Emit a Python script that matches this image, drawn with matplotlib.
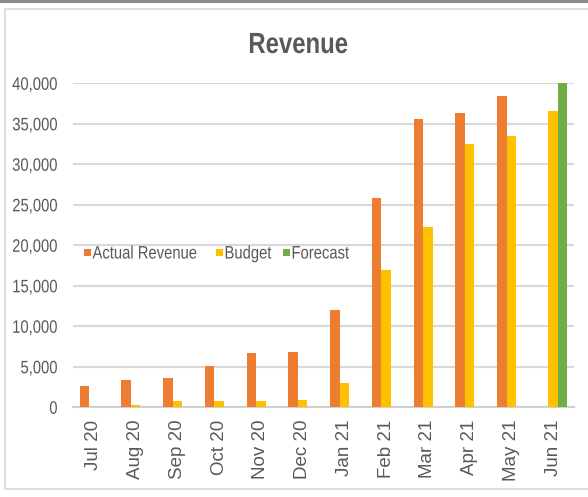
import numpy as np
import matplotlib
matplotlib.use("Agg")
import matplotlib.pyplot as plt
from matplotlib.patches import Rectangle
from matplotlib.patheffects import AbstractPathEffect
from matplotlib.transforms import Affine2D

months = ["Jul 20", "Aug 20", "Sep 20", "Oct 20", "Nov 20", "Dec 20",
          "Jan 21", "Feb 21", "Mar 21", "Apr 21", "May 21", "Jun 21"]
actual = [2670, 3330, 3580, 5140, 6670, 6830, 12000, 25880, 35550, 36370, 38430, 0]
budget = [0, 250, 740, 740, 740, 900, 2960, 16950, 22220, 32470, 33500, 36600]
forecast = [0, 0, 0, 0, 0, 0, 0, 0, 0, 0, 0, 40000]

series_names = ["Actual Revenue", "Budget", "Forecast"]
colors = ["#ED7D31", "#FFC000", "#70AD47"]
text_col = "#595959"
font = ["Liberation Sans", "DejaVu Sans"]


class Squeeze(AbstractPathEffect):
    # narrows text horizontally (no narrow font installed), keeps alignment
    def __init__(self, sx=0.82, align="left"):
        super().__init__()
        self.sx = sx
        self.align = align

    def draw_path(self, renderer, gc, tpath, affine, rgbFace=None):
        x1 = tpath.get_extents().x1
        shift = 0
        if self.align == "right":
            shift = (1 - self.sx) * x1
        elif self.align == "center":
            shift = (1 - self.sx) * x1 / 2
        tr = Affine2D().scale(self.sx, 1).translate(shift, 0) + affine
        renderer.draw_path(gc, tpath, tr, rgbFace)


W, H = 588, 497
fig = plt.figure(figsize=(W / 100, H / 100), dpi=100)
fig.patch.set_facecolor("white")

# outer frame bits
fig.patches.append(Rectangle((0, 1 - 3 / H), 1, 3 / H, transform=fig.transFigure,
                             facecolor="#8c8c8c", edgecolor="none"))
fig.patches.append(Rectangle((5 / W, 8 / H), 1.0, 1 - 17 / H, transform=fig.transFigure,
                             facecolor="none", edgecolor="#d9d9d9", lw=1.2))

ax = fig.add_axes([73 / W, (H - 407.3) / H, (574 - 73) / W, (407.3 - 83.3) / H])

x = np.arange(len(months))
w = 0.2275
ax.bar(x - w, actual, w, color=colors[0], zorder=3)
ax.bar(x, budget, w, color=colors[1], zorder=3)
ax.bar(x + w, forecast, w, color=colors[2], zorder=3)

ax.set_xlim(-0.5, len(months) - 0.5)
ax.set_ylim(0, 40000)
ax.set_yticks(np.arange(0, 40001, 5000))
ax.set_yticklabels(["{:,}".format(v) for v in range(0, 40001, 5000)],
                   family=font, fontsize=13, color=text_col)
for t in ax.get_yticklabels():
    t.set_path_effects([Squeeze(0.82, "right")])
ax.set_xticks(x)
ax.set_xticklabels(months, rotation=90, family=font, fontsize=13.5, color=text_col)
ax.tick_params(axis="y", length=0, pad=11)
ax.tick_params(axis="x", length=0, pad=9)

ax.grid(axis="y", color="#d9d9d9", lw=1.5, zorder=0)
for s in ["top", "right", "left"]:
    ax.spines[s].set_visible(False)
ax.spines["bottom"].set_color("#d0d0d0")
ax.spines["bottom"].set_linewidth(1.5)

# legend, drawn by hand so the narrowed text keeps Excel's spacing
leg_marker_x = [84, 216, 283]
leg_y = 252
for name, c, mx in zip(series_names, colors, leg_marker_x):
    fig.patches.append(Rectangle((mx / W, 1 - (leg_y + 3.5) / H), 7 / W, 7 / H,
                                 transform=fig.transFigure, facecolor=c, edgecolor="none"))
    fig.text((mx + 8.5) / W, 1 - leg_y / H, name, ha="left", va="center_baseline",
             family=font, fontsize=13, color=text_col,
             path_effects=[Squeeze(0.82, "left")])

fig.text(0.507, 1 - 45 / H, "Revenue", ha="center", va="center",
         family=font, fontsize=21, fontweight="bold", color=text_col,
         path_effects=[Squeeze(0.82, "center")])

fig.savefig("out.png", dpi=100)
